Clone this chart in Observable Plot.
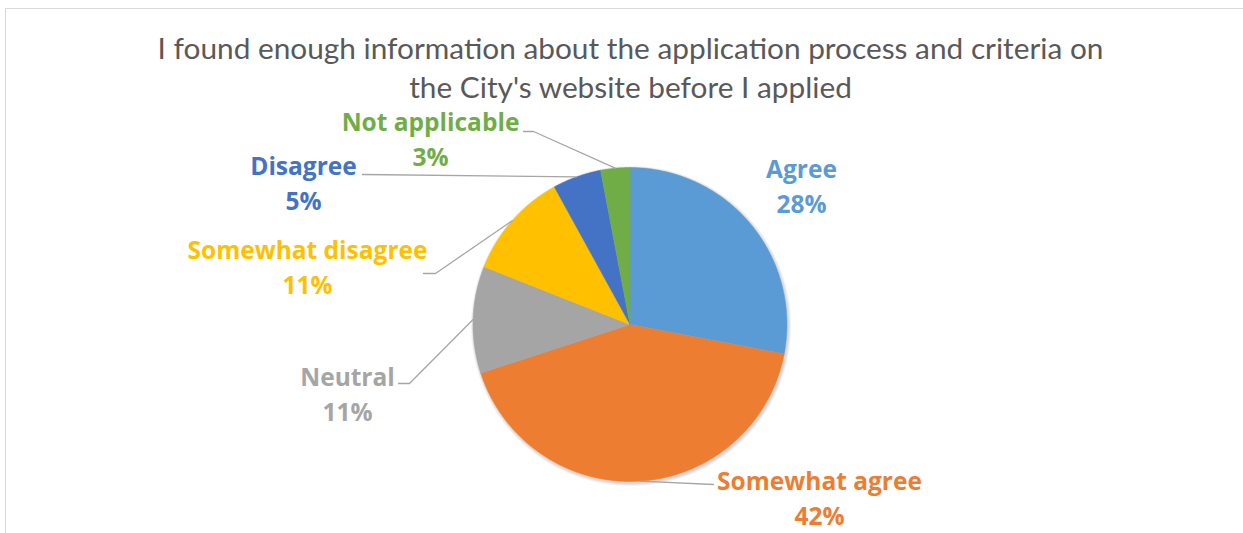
<!DOCTYPE html>
<html>
<head>
<meta charset="utf-8">
<script src="https://cdn.jsdelivr.net/npm/d3@7"></script>
<script src="https://cdn.jsdelivr.net/npm/@observablehq/plot@0.6"></script>
<style>
  html, body { margin: 0; padding: 0; background: #fff; }
  #wrap { position: relative; width: 1243px; height: 533px; overflow: hidden; }
  #wrap svg { display: block; }
  #border { position: absolute; left: 5px; top: 8px; right: -2px; bottom: -2px;
            border-top: 1.5px solid #d9d9d9; border-left: 1.5px solid #d9d9d9; pointer-events: none; }
</style>
</head>
<body>
<div id="wrap"><div id="border"></div></div>
<script>
// ---- data ----
const categories = ["Agree", "Somewhat agree", "Neutral", "Somewhat disagree", "Disagree", "Not applicable"];
const percents = [28, 42, 11, 11, 5, 3];
const colors = ["#5B9BD5", "#ED7D31", "#A5A5A5", "#FFC000", "#4472C4", "#70AD47"];
const titleLines = ["I found enough information about the application process and criteria on",
                    "the City's website before I applied"];

// ---- layout (pixels) ----
const W = 1243, H = 533;
const cx = 629.5, cy = 324, R = 157;
// x: label centre, y: baseline of the percentage (last) line
const labelLayout = {
  "Agree":             {x: 801, y: 212, elbow: []},
  "Somewhat agree":    {x: 819, y: 524, elbow: [[713, 484]]},
  "Neutral":           {x: 347, y: 420, elbow: [[409, 383], [398, 383]]},
  "Somewhat disagree": {x: 307, y: 293, elbow: [[435, 273], [423, 273]]},
  "Disagree":          {x: 303, y: 209, elbow: [[362, 174]]},
  "Not applicable":    {x: 430, y: 165, elbow: [[533, 131], [523, 131]]}
};

// ---- derived geometry from data ----
const total = d3.sum(percents);
const slices = [];
let acc = 0;
categories.forEach((c, i) => {
  const a0 = acc / total * 2 * Math.PI;
  acc += percents[i];
  const a1 = acc / total * 2 * Math.PI;
  const n = Math.max(2, Math.ceil((a1 - a0) / (Math.PI / 360)));
  const pts = [{x: cx, y: cy}];
  for (let k = 0; k <= n; k++) {
    const a = a0 + (a1 - a0) * k / n;
    pts.push({x: cx + R * Math.sin(a), y: cy - R * Math.cos(a)});
  }
  const am = (a0 + a1) / 2;
  slices.push({cat: c, pct: percents[i], color: colors[i], pts,
               ex: cx + R * Math.sin(am), ey: cy - R * Math.cos(am)});
});

// faint shadow rings behind the pie
const shadowRings = [3, 2, 1].map(dr => {
  const pts = [];
  for (let k = 0; k < 360; k++) {
    const a = k / 360 * 2 * Math.PI;
    pts.push({x: cx + 1 + (R + dr) * Math.sin(a), y: cy + 1.5 + (R + dr) * Math.cos(a)});
  }
  return pts;
});

const leaders = [];
slices.forEach(s => {
  const L = labelLayout[s.cat];
  if (!L.elbow.length) return;
  leaders.push({cat: s.cat, x: s.ex, y: s.ey});
  L.elbow.forEach(([x, y]) => leaders.push({cat: s.cat, x, y}));
});

const chart = Plot.plot({
  width: W, height: H,
  marginTop: 0, marginRight: 0, marginBottom: 0, marginLeft: 0,
  x: {domain: [0, W], range: [0, W], axis: null},
  y: {domain: [0, H], range: [0, H], axis: null},
  style: {fontFamily: "Lato, sans-serif", background: "transparent"},
  marks: [
    ...shadowRings.map(pts => Plot.line(pts, {
      x: "x", y: "y", fill: "#000", fillOpacity: 0.05, stroke: "none", curve: "linear-closed"
    })),
    ...slices.map(s => Plot.line(s.pts, {
      x: "x", y: "y", fill: s.color, stroke: s.color, strokeWidth: 0.5,
      curve: "linear-closed"
    })),
    Plot.line(leaders, {x: "x", y: "y", z: "cat", stroke: "#A6A6A6", strokeWidth: 1.3}),
    ...slices.map(s => Plot.text([s], {
      x: () => labelLayout[s.cat].x, y: () => labelLayout[s.cat].y,
      text: d => d.cat + "\n" + d.pct + "%",
      fill: s.color, fontFamily: "'Open Sans', sans-serif",
      fontSize: 24.5, fontWeight: "bold", lineAnchor: "bottom", lineHeight: 1.41,
      textAnchor: "middle"
    })),
    Plot.text(titleLines.map((t, i) => ({t, i})), {
      x: () => 630, y: d => 58 + d.i * 39, text: "t",
      fontSize: 29.8, fill: "#595959", lineAnchor: "bottom", textAnchor: "middle"
    })
  ]
});
document.getElementById("wrap").prepend(chart);
</script>
</body>
</html>
